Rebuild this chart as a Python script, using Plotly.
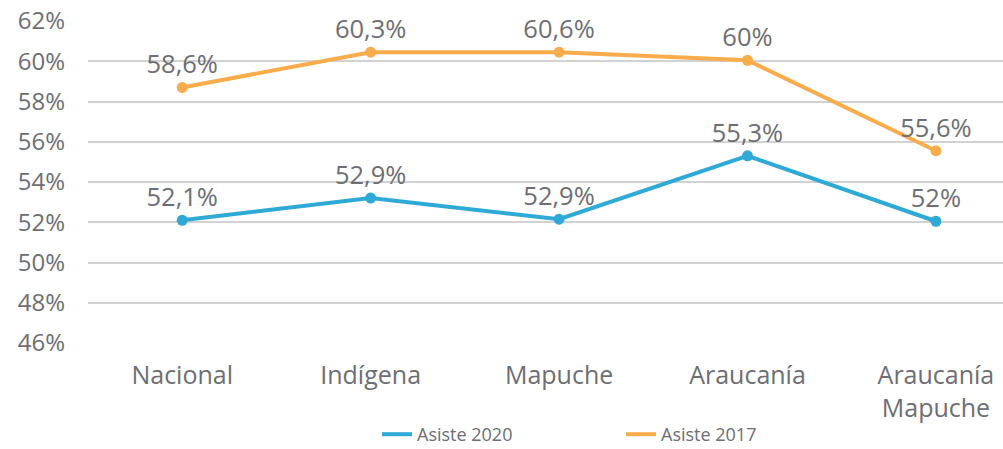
import plotly.graph_objects as go

categories = ["Nacional", "Indígena", "Mapuche", "Araucanía", "Araucanía<br>Mapuche"]
asiste_2020 = [52.1, 53.2, 52.15, 55.3, 52.05]
asiste_2020_labels = ["52,1%", "52,9%", "52,9%", "55,3%", "52%"]
asiste_2017 = [58.7, 60.45, 60.45, 60.05, 55.55]
asiste_2017_labels = ["58,6%", "60,3%", "60,6%", "60%", "55,6%"]
y_ticks = [46, 48, 50, 52, 54, 56, 58, 60, 62]
y_tick_labels = [f"{v}%" for v in y_ticks]

BLUE = "#2fa9d6"
ORANGE = "#f8ac4c"
GREY = "#6d6e73"
FONT = "Open Sans"

fig = go.Figure()
x_idx = list(range(len(categories)))
for name, vals, labels, color in [
    ("Asiste 2020", asiste_2020, asiste_2020_labels, BLUE),
    ("Asiste 2017", asiste_2017, asiste_2017_labels, ORANGE),
]:
    fig.add_trace(go.Scatter(
        x=x_idx, y=vals, name=name, mode="lines",
        line=dict(color=color, width=4), showlegend=True, legendgroup=name,
    ))
    fig.add_trace(go.Scatter(
        x=x_idx, y=vals, name=name, mode="markers+text",
        marker=dict(color=color, size=11), showlegend=False, legendgroup=name,
        text=labels, textposition="top center",
        textfont=dict(family=FONT, size=25.5, color=GREY), cliponaxis=False,
    ))

fig.update_layout(
    width=1003, height=449,
    margin=dict(l=88, r=0, t=21, b=106, autoexpand=False),
    paper_bgcolor="white", plot_bgcolor="white",
    font=dict(family=FONT, color=GREY),
    showlegend=True,
    legend=dict(orientation="h", x=(377 - 88) / 915, xanchor="left",
                y=-(453 - 343) / 322, yanchor="bottom",
                font=dict(family=FONT, size=18, color=GREY),
                traceorder="normal", entrywidth=199, entrywidthmode="pixels"),
    xaxis=dict(range=[-0.5, 4.356], tickvals=x_idx, ticktext=categories, automargin=False,
               showgrid=False, zeroline=False, showline=False,
               tickfont=dict(family=FONT, size=25, color=GREY), ticklabelstandoff=15),
    yaxis=dict(range=[46, 62], tickvals=y_ticks, ticktext=y_tick_labels, automargin=False,
               showgrid=True, gridcolor="#d2d2d2", gridwidth=2, zeroline=False, showline=False,
               tickfont=dict(family=FONT, size=24, color=GREY), ticklabelstandoff=22),
)

fig.write_html("out.html", config={"displayModeBar": False},
               post_script="document.body.style.margin='0';")
